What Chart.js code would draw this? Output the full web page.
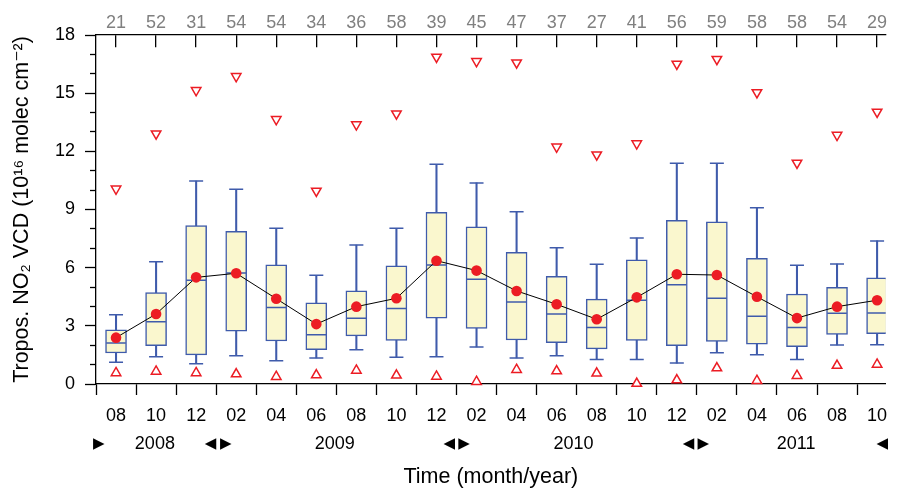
<!DOCTYPE html>
<html><head><meta charset="utf-8">
<script src="https://cdn.jsdelivr.net/npm/chart.js@4/dist/chart.umd.min.js"></script>
<style>html,body{margin:0;padding:0;background:#fff;overflow:hidden}</style>
</head><body>
<canvas id="c" width="897" height="490"></canvas>
<script>
// ---- data ----
const months = ['08','10','12','02','04','06','08','10','12','02','04','06','08','10','12','02','04','06','08','10'];
const counts = [21,52,31,54,54,34,36,58,39,45,47,37,27,41,56,59,58,58,54,29];
const whiskerLow  = [1.12,1.41,1.05,1.46,1.20,1.34,1.77,1.38,1.41,1.91,1.34,1.46,1.27,1.27,1.08,1.61,1.51,1.27,2.01,2.03];
const q1          = [1.60,1.98,1.50,2.73,2.22,1.77,2.48,2.25,3.40,2.87,2.27,2.13,1.81,2.25,1.98,2.20,2.06,1.92,2.56,2.59];
const median      = [2.11,3.21,5.35,5.72,3.94,2.54,3.39,3.90,6.14,5.40,4.23,3.61,2.92,4.32,5.12,4.42,3.49,2.92,3.65,3.66];
const q3          = [2.80,4.71,8.17,7.87,6.14,4.18,4.80,6.09,8.86,8.10,6.79,5.55,4.38,6.41,8.44,8.37,6.48,4.64,4.99,5.48];
const whiskerHigh = [3.57,6.31,10.47,10.04,8.03,5.61,7.17,8.03,11.33,10.37,8.89,7.03,6.17,7.53,11.38,11.38,9.09,6.12,6.19,7.38];
const mean        = [2.39,3.61,5.50,5.71,4.40,3.09,3.99,4.42,6.36,5.85,4.80,4.11,3.34,4.47,5.66,5.62,4.50,3.40,3.99,4.32];
const maxV        = [10.07,12.91,15.15,15.87,13.65,9.96,13.38,13.94,16.87,16.64,16.57,12.23,11.83,12.40,16.51,16.75,15.04,11.40,12.84,14.03];
const minV        = [0.57,0.65,0.57,0.51,0.38,0.46,0.70,0.45,0.39,0.12,0.74,0.67,0.55,0.02,0.20,0.82,0.17,0.43,0.95,1.01];
const yTicks      = [0,1,2,3,4,5,6,7,8,9,10,11,12,13,14,15,16,17,18];
const yearLabels  = ['▶','2008','◀','▶','2009','◀','▶','2010','◀','▶','2011','◀'];
const yearPos     = [-0.43,0.97,2.36,2.74,5.46,8.32,8.69,11.42,14.29,14.66,16.98,19.13];

// ---- styles ----
const FONT = "'Liberation Sans', Arial, 'DejaVu Sans', sans-serif";
const BLUE = '#3F5BAB', FILL = '#FAF7CE', RED = '#EC1C24';
const pts = arr => arr.map((v, i) => ({x: i, y: v}));
const rng = (a, b) => a.map((v, i) => ({x: i, y: [v, b[i]]}));
const noPad = s => { s.paddingLeft = 0; s.paddingRight = 0; };
const isArrow = i => yearLabels[i] === '◀' || yearLabels[i] === '▶';

new Chart(document.getElementById('c'), {
  type: 'line',
  data: {datasets: [
    {type: 'line', data: pts(mean), borderColor: '#000', borderWidth: 1, pointRadius: 5.3,
     pointBackgroundColor: RED, pointBorderWidth: 0, order: 0, clip: false},
    {type: 'line', data: pts(maxV), showLine: false, pointStyle: 'triangle', pointRotation: 180,
     pointRadius: 5.5, pointBackgroundColor: '#fff', pointBorderColor: RED, pointBorderWidth: 1.5, order: 1, clip: false},
    {type: 'line', data: pts(minV), showLine: false, pointStyle: 'triangle', pointRotation: 0,
     pointRadius: 5.5, pointBackgroundColor: '#fff', pointBorderColor: RED, pointBorderWidth: 1.5, order: 1, clip: false},
    {type: 'line', data: pts(median), showLine: false, pointStyle: 'line', pointRadius: 9.8,
     pointBorderColor: BLUE, pointBorderWidth: 1.5, order: 2},
    {type: 'line', data: pts(whiskerHigh), showLine: false, pointStyle: 'line', pointRadius: 7,
     pointBorderColor: BLUE, pointBorderWidth: 1.5, order: 3},
    {type: 'line', data: pts(whiskerLow), showLine: false, pointStyle: 'line', pointRadius: 7,
     pointBorderColor: BLUE, pointBorderWidth: 1.5, order: 3},
    {type: 'bar', data: rng(q3, whiskerHigh), backgroundColor: BLUE, barThickness: 1.4, grouped: false, order: 4},
    {type: 'bar', data: rng(whiskerLow, q1), backgroundColor: BLUE, barThickness: 1.4, grouped: false, order: 4},
    {type: 'bar', data: rng(q1, q3), backgroundColor: FILL, borderColor: BLUE, borderWidth: 1.5,
     borderSkipped: false, barThickness: 21, grouped: false, order: 5}
  ]},
  options: {
    responsive: false, maintainAspectRatio: false, animation: false, events: [],
    layout: {padding: 0},
    plugins: {legend: {display: false}, tooltip: {enabled: false}},
    scales: {
      x: {type: 'linear', position: 'bottom', weight: 0, min: -0.5, max: 19.215, offset: false,
        afterBuildTicks: s => { s.ticks = months.map((m, i) => ({value: i})); },
        afterFit: s => { s.height = 44; noPad(s); },
        ticks: {callback: (v, i) => months[i], color: '#000', font: {family: FONT, size: 18},
          padding: 10, autoSkip: false, maxRotation: 0, minRotation: 0},
        grid: {drawOnChartArea: false, drawTicks: true, tickLength: 11, tickColor: '#000', tickWidth: 1.3},
        border: {display: true, color: '#000', width: 1.3}
      },
      xYear: {type: 'linear', position: 'bottom', weight: 1, min: -0.5, max: 19.215, offset: false,
        afterBuildTicks: s => { s.ticks = yearPos.map(v => ({value: v})); },
        afterFit: s => { s.height = 62; noPad(s); },
        ticks: {callback: (v, i) => yearLabels[i], color: '#000',
          font: c => isArrow(c.index) ? {family: FONT, size: 15, lineHeight: 1.44} : {family: FONT, size: 18, lineHeight: 1.2},
          padding: 5, autoSkip: false, maxRotation: 0, minRotation: 0},
        grid: {display: false, drawTicks: false, drawOnChartArea: false}, border: {display: false},
        title: {display: true, text: 'Time (month/year)', color: '#000',
          font: {family: FONT, size: 21.5}, padding: {top: 0, bottom: 0.5}}
      },
      xTop: {type: 'linear', position: 'top', min: -0.5, max: 19.215, offset: false,
        afterBuildTicks: s => { s.ticks = counts.map((c, i) => ({value: i})); },
        afterFit: s => { s.height = 35; noPad(s); },
        ticks: {callback: (v, i) => String(counts[i]), color: '#808080', font: {family: FONT, size: 18},
          padding: 1.5, autoSkip: false, maxRotation: 0, minRotation: 0},
        grid: {drawOnChartArea: true, drawTicks: false, color: '#000', lineWidth: 1.3},
        border: {display: true, color: '#000', width: 1.3, dash: [12, 2000]}
      },
      y: {type: 'linear', position: 'left', min: 0, max: 18,
        afterBuildTicks: s => { s.ticks = yTicks.map(v => ({value: v})); },
        afterFit: s => { s.width = 96; },
        ticks: {callback: v => (v % 3 === 0 ? String(v) : ''), color: '#000',
          font: {family: FONT, size: 18}, padding: 10, autoSkip: false},
        grid: {drawOnChartArea: false, drawTicks: true, tickLength: 11, tickColor: '#000', tickWidth: 1.3,
          tickBorderDash: c => (c.tick && c.tick.value % 3 !== 0) ? [6, 5] : [],
          tickBorderDashOffset: c => (c.tick && c.tick.value % 3 !== 0) ? 6 : 0},
        border: {display: true, color: '#000', width: 1.3},
        title: {display: true, text: 'Tropos. NO₂ VCD (10¹⁶ molec cm⁻²)', color: '#000',
          font: {family: FONT, size: 21.5}, padding: {top: 9.6, bottom: 0}}
      }
    }
  }
});
</script>
</body></html>
